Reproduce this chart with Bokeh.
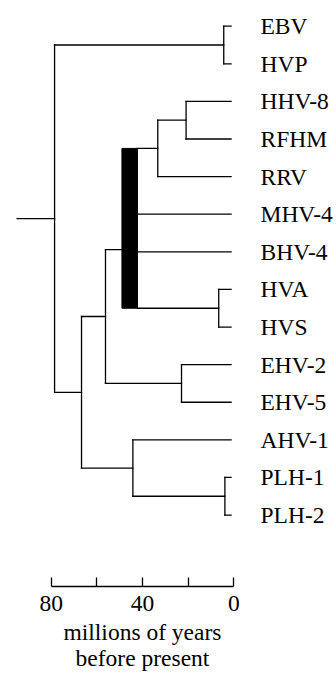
from bokeh.plotting import figure
from bokeh.models import ColumnDataSource, Range1d, LinearAxis, FixedTicker
from bokeh.embed import file_html
from bokeh.resources import INLINE

# ---- data ----
leaf_names = ["EBV", "HVP", "HHV-8", "RFHM", "RRV", "MHV-4", "BHV-4",
              "HVA", "HVS", "EHV-2", "EHV-5", "AHV-1", "PLH-1", "PLH-2"]
tip_age = 1.2

node_names = ["EBV-HVP", "HHV8-RFHM", "RRV-grp", "HVA-HVS", "poly",
              "EHV", "gamma2", "PLH", "AHV-PLH", "mid", "root"]
node_children = [["EBV", "HVP"], ["HHV-8", "RFHM"], ["HHV8-RFHM", "RRV"],
                 ["HVA", "HVS"], ["RRV-grp", "MHV-4", "BHV-4", "HVA-HVS"],
                 ["EHV-2", "EHV-5"], ["poly", "EHV"], ["PLH-1", "PLH-2"],
                 ["AHV-1", "PLH"], ["gamma2", "AHV-PLH"], ["EBV-HVP", "mid"]]
# oldest / youngest age estimate of each node (Myr before present)
node_age_old = [4.4, 20.9, 33.3, 6.6, 49.0, 22.9, 56.2, 3.9, 44.2, 66.7, 78.5]
node_age_young = [4.4, 20.9, 33.3, 6.6, 42.2, 22.9, 56.2, 3.9, 44.2, 66.7, 78.5]
poly_attach = 5.94
root_stem_age = 94.9

axis_ticks = [0, 20, 40, 60, 80]
axis_labels = {0: "0", 20: "", 40: "40", 60: "", 80: "80"}
axis_title_1 = "millions of years"
axis_title_2 = "before present"

# ---- layout of tree ----
ypos = {n: i for i, n in enumerate(leaf_names)}
old = {n: tip_age for n in leaf_names}
young = {n: tip_age for n in leaf_names}
for n, ch, ao, ay in zip(node_names, node_children, node_age_old, node_age_young):
    cy = [ypos[c] for c in ch]
    ypos[n] = poly_attach if n == "poly" else (min(cy) + max(cy)) / 2
    old[n] = ao
    young[n] = ay

x0, y0, x1, y1 = [], [], [], []
bar = dict(left=[], right=[], top=[], bottom=[])
for n, ch in zip(node_names, node_children):
    cy = [ypos[c] for c in ch]
    if old[n] != young[n]:
        bar["left"].append(old[n]); bar["right"].append(young[n])
        bar["top"].append(min(cy)); bar["bottom"].append(max(cy))
    else:
        x0.append(young[n]); x1.append(young[n]); y0.append(min(cy)); y1.append(max(cy))
    for c in ch:
        x0.append(young[n]); x1.append(old[c]); y0.append(ypos[c]); y1.append(ypos[c])
x0.append(root_stem_age); x1.append(old["root"]); y0.append(ypos["root"]); y1.append(ypos["root"])

src = ColumnDataSource(dict(x0=x0, y0=y0, x1=x1, y1=y1))
bsrc = ColumnDataSource(bar)

FONT = "Liberation Serif"
FS = "23.5px"

p = figure(width=336, height=675, output_backend="svg", toolbar_location=None,
           x_range=Range1d(102.19, -9.07), y_range=Range1d(14.90, -0.6835),
           x_axis_location=None, y_axis_location=None,
           min_border_left=0, min_border_right=82, min_border_top=0, min_border_bottom=89)
p.grid.visible = False
p.outline_line_color = None
p.background_fill_color = "white"
p.border_fill_color = "white"

p.segment(x0="x0", y0="y0", x1="x1", y1="y1", source=src,
          line_color="black", line_width=1.3, line_cap="square")
p.quad(left="left", right="right", top="top", bottom="bottom", source=bsrc,
       fill_color="black", line_color="black", line_width=1)

xa = LinearAxis(ticker=FixedTicker(ticks=axis_ticks), bounds=(0, 80),
                major_label_overrides=axis_labels)
xa.axis_line_color = "black"
xa.axis_line_width = 1.3
xa.major_tick_line_color = "black"
xa.major_tick_line_width = 1.3
xa.major_tick_in = 9
xa.major_tick_out = 0
xa.minor_tick_line_color = None
xa.major_label_text_font = FONT
xa.major_label_text_font_size = FS
xa.major_label_text_color = "black"
xa.major_label_standoff = 9
p.add_layout(xa, "below")

for t, s in [(axis_title_1, 5), (axis_title_2, -3)]:
    xb = LinearAxis(ticker=FixedTicker(ticks=[40]), bounds=(0, 80),
                    major_label_overrides={40: t})
    xb.axis_line_color = None
    xb.major_tick_line_color = None
    xb.minor_tick_line_color = None
    xb.major_tick_in = 0
    xb.major_tick_out = 0
    xb.major_label_standoff = s
    xb.major_label_text_font = FONT
    xb.major_label_text_font_size = FS
    xb.major_label_text_color = "black"
    p.add_layout(xb, "below")

ya = LinearAxis(ticker=FixedTicker(ticks=list(range(len(leaf_names)))),
                major_label_overrides={i: n for i, n in enumerate(leaf_names)})
ya.axis_line_color = None
ya.major_tick_line_color = None
ya.minor_tick_line_color = None
ya.major_tick_out = 0
ya.major_tick_in = 0
ya.major_label_standoff = 6
ya.major_label_text_font = FONT
ya.major_label_text_font_size = FS
ya.major_label_text_color = "black"
p.add_layout(ya, "right")

open("out.html", "w").write(file_html(p, INLINE))
